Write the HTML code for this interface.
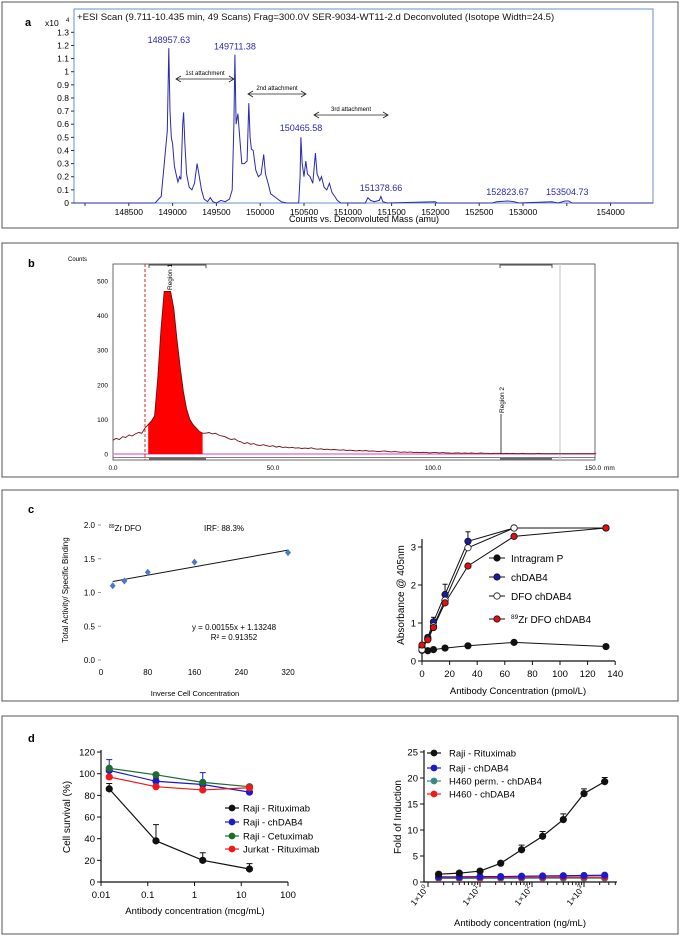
<!DOCTYPE html>
<html><head><meta charset="utf-8"><style>
html,body{margin:0;padding:0;background:#fff}
svg{display:block;font-family:"Liberation Sans",Arial,sans-serif}
</style></head><body>
<svg id="fig" width="680" height="937" viewBox="0 0 680 937" xmlns="http://www.w3.org/2000/svg">
<rect x="2" y="2" width="676" height="226" fill="none" stroke="#555"/>
<rect x="2" y="243" width="676" height="234" fill="none" stroke="#555"/>
<rect x="2" y="490" width="676" height="211" fill="none" stroke="#555"/>
<rect x="2" y="716" width="676" height="218" fill="none" stroke="#555"/>
<text x="25" y="26" font-size="11" font-weight="bold">a</text>
<text x="28" y="267" font-size="11" font-weight="bold">b</text>
<text x="28" y="513" font-size="11" font-weight="bold">c</text>
<text x="28" y="742" font-size="11" font-weight="bold">d</text>
<g id="ga"></g>
<g id="gb"></g>
<g id="gc1"></g>
<g id="gc2"></g>
<g id="gd1"></g>
<g id="gd2"></g>
</svg>
<script>
// ---------- Panel a data ----------
const specMass=[147874,148800,148870,148940,148957,148970,148985,149000,149020,149040,149060,149080,149095,149115,149125,149140,149160,149190,149220,149250,149280,149300,149330,149360,149400,149430,149460,149500,149550,149600,149650,149680,149700,149711,149725,149745,149760,149790,149820,149850,149870,149885,149900,149920,149950,149980,150010,150040,150060,150090,150120,150160,150200,150240,150300,150440,150455,150465,150480,150500,150520,150540,150570,150600,150630,150650,150680,150700,150730,150760,150790,150820,150850,150880,150920,151200,151230,151260,151300,151360,151378,151400,151450,152000,152020,152650,152700,152823,152900,152950,153330,153400,153480,153520,153560,154484];
const specInt=[0,0,0.05,0.55,1.18,0.7,0.5,0.45,0.28,0.22,0.16,0.2,0.18,0.6,0.69,0.45,0.22,0.12,0.1,0.15,0.3,0.22,0.1,0.03,0.01,0.04,0.01,0,0.02,0.01,0.03,0.1,0.6,1.13,0.6,0.68,0.55,0.3,0.3,0.32,0.76,0.5,0.41,0.4,0.25,0.2,0.22,0.37,0.22,0.15,0.07,0.05,0.03,0.01,0,0,0.2,0.5,0.3,0.2,0.32,0.22,0.2,0.15,0.38,0.22,0.17,0.2,0.12,0.1,0.15,0.08,0.05,0.02,0,0,0.04,0.02,0.01,0.02,0.05,0.01,0,0.01,0,0,0.01,0.015,0.01,0,0.01,0,0.015,0.015,0,0];
const aYTicks=[0,0.1,0.2,0.3,0.4,0.5,0.6,0.7,0.8,0.9,1,1.1,1.2,1.3];
const aXTicks=[148500,149000,149500,150000,150500,151000,151500,152000,152500,153000,153500,154000];
const aPeakLabels=["148957.63","149711.38","150465.58","151378.66","152823.67","153504.73"];
const aPeakMass=[148957.63,149711.38,150465.58,151378.66,152823.67,153504.73];
const aPeakLabelVal=[1.22,1.17,0.55,0.09,0.06,0.06];
// ---------- Panel b data (counts per mm 0..150) ----------
const tlcCounts=[40,45,42,50,48,55,52,58,62,60,75,85,95,110,220,360,470,470,470,420,330,250,180,130,100,85,75,65,60,60,62,58,60,55,52,50,45,42,44,38,35,30,33,28,30,26,25,27,24,22,24,20,22,19,20,18,19,17,18,16,17,16,18,15,14,15,13,14,12,13,12,11,12,10,11,10,9,10,9,10,8,9,8,7,8,9,7,6,7,6,5,6,5,6,4,5,4,5,4,3,4,4,3,4,3,3,2,3,3,2,3,2,3,2,2,3,2,2,1,2,2,2,1,2,1,2,1,1,2,1,1,1,1,2,1,1,1,1,1,1,1,1,1,1,1,1,1,1,1,1,1,1];
const bYTicks=[0,100,200,300,400,500];
const bXTicks=["0.0","50.0","100.0","150.0"];
const bXTickVals=[0,50,100,150];
// ---------- Panel c data ----------
const lindX=[20,40,80,160,320];
const lindY=[1.10,1.17,1.30,1.45,1.59];
const lindSlope=0.00155, lindIntercept=1.13248;
const c1YTicks=["0.0","0.5","1.0","1.5","2.0"];
const c1XTicks=[0,80,160,240,320];
const elisaX=[0,4.2,8.3,16.7,33.3,66.7,133.3];
const elisaIntragram=[0.28,0.27,0.3,0.34,0.4,0.49,0.38];
const elisaChDAB4=[0.35,0.62,1.03,1.75,3.15,3.5,3.5];
const elisaDFO=[0.3,0.58,0.92,1.6,2.98,3.5,3.5];
const elisaZr=[0.42,0.56,0.88,1.53,2.5,3.28,3.5];
const elisaErrChDAB4=[0.05,0.06,0.12,0.27,0.25,0.03,0.03];
const elisaErrIntragram=[0.03,0.03,0.04,0.06,0.06,0.07,0.08];
const c2YTicks=[0,1,2,3];
const c2XTicks=[0,20,40,60,80,100,120,140];
// ---------- Panel d data ----------
const cdcX=[0.015,0.15,1.5,15];
const cdcRaji=[86,38,20,12];
const cdcRajiErr=[5,15,7,5];
const cdcChDAB4=[103,93,90,83];
const cdcChDAB4Err=[10,3,11,3];
const cdcCetux=[105,99,92,88];
const cdcJurkat=[97,88,85,87];
const d1YTicks=[0,20,40,60,80,100,120];
const d1XTicks=["0.01","0.1","1","10","100"];
const d1XTickVals=[0.01,0.1,1,10,100];
const adccX=[1.6,4,10,25,63,160,400,1000,2500];
const adccRaji=[1.5,1.7,2.1,3.6,6.2,8.8,12.0,17.0,19.3];
const adccRajiErr=[0.3,0.3,0.3,0.4,0.9,0.9,1.1,0.9,0.8];
const adccChDAB4=[1.0,1.0,1.05,1.05,1.1,1.15,1.2,1.25,1.3];
const adccH460p=[0.7,0.7,0.7,0.72,0.72,0.75,0.75,0.75,0.75];
const adccH460=[0.85,0.85,0.85,0.88,0.9,0.9,0.92,0.95,0.95];
const d2YTicks=[0,5,10,15,20,25];
const d2XTickExp=[0,1,2,3];

const NS="http://www.w3.org/2000/svg";
function mk(tag,attrs,parent,txt){const e=document.createElementNS(NS,tag);for(const k in attrs)e.setAttribute(k,attrs[k]);if(txt!==undefined)e.textContent=txt;parent.appendChild(e);return e;}
let e;

// ===== Panel a =====
(function(){
const g=document.getElementById('ga');
const X=m=>85+(m-148000)*0.0876, Y=v=>203-v*131.3;
e=mk('rect',{x:74,y:9,width:579,height:194,fill:'none',stroke:'#6a8fc8','stroke-width':1},g);

e=mk('text',{x:77,y:20,'font-size':9.6,fill:'#111'},g,'+ESI Scan (9.711-10.435 min, 49 Scans) Frag=300.0V SER-9034-WT11-2.d  Deconvoluted (Isotope Width=24.5)');

e=mk('text',{x:45,y:26,'font-size':8.5},g,'x10');

e=mk('text',{x:66,y:22,'font-size':6},g,'4');

aYTicks.forEach(v=>{
 e=mk('line',{x1:71,x2:74,y1:Y(v),y2:Y(v),stroke:'#333'},g);
 
 e=mk('text',{x:69,y:Y(v)+3,'font-size':8.5,'text-anchor':'end'},g,String(v));
 
});
e=mk('line',{x1:X(148000),x2:X(148000),y1:203,y2:206,stroke:'#333'},g);

aXTicks.forEach(v=>{
 e=mk('line',{x1:X(v),x2:X(v),y1:203,y2:206,stroke:'#333'},g);
 
 if(v!==153500){
 e=mk('text',{x:X(v),y:215,'font-size':8.5,'text-anchor':'middle'},g,String(v));
 }
});
e=mk('text',{x:364,y:222,'font-size':9,'text-anchor':'middle'},g,'Counts vs. Deconvoluted Mass (amu)');

let d=specMass.map((m,i)=>(i?'L':'M')+X(m).toFixed(1)+','+Y(specInt[i]).toFixed(1)).join('');
e=mk('path',{d:d,fill:'none',stroke:'#2a2ab0','stroke-width':1},g);

aPeakLabels.forEach((t,i)=>{
 e=mk('text',{x:X(aPeakMass[i]),y:Y(aPeakLabelVal[i]),'font-size':9,fill:'#2a2ab0','text-anchor':'middle'},g,t);
 
});
const arrows=[[176,234,79,'1st attachment'],[248,306,94,'2nd attachment'],[314,388,115,'3rd attachment']];
arrows.forEach(a=>{
 e=mk('path',{d:`M${a[0]},${a[2]}H${a[1]}M${a[0]+5},${a[2]-3}L${a[0]},${a[2]}L${a[0]+5},${a[2]+3}M${a[1]-5},${a[2]-3}L${a[1]},${a[2]}L${a[1]-5},${a[2]+3}`,fill:'none',stroke:'#222','stroke-width':0.8},g);
 
 e=mk('text',{x:(a[0]+a[1])/2,y:a[2]-4,'font-size':6,'text-anchor':'middle'},g,a[3]);
 
});
})();

// ===== Panel b =====
(function(){
const g=document.getElementById('gb');
const X=mm=>113+mm*3.2, Y=c=>454-c*0.346;
e=mk('rect',{x:113,y:264,width:482,height:196,fill:'none',stroke:'#444','stroke-width':0.8},g);

e=mk('text',{x:68,y:261,'font-size':6},g,'Counts');

bYTicks.forEach(v=>{
 e=mk('text',{x:108,y:Y(v)+2.5,'font-size':6.5,'text-anchor':'end'},g,String(v));
 
});
bXTickVals.forEach((v,i)=>{
 e=mk('text',{x:X(v),y:470,'font-size':6.5,'text-anchor':'middle'},g,bXTicks[i]);
 
});
e=mk('text',{x:604,y:470,'font-size':6.5},g,'mm');

e=mk('line',{x1:113,x2:595,y1:454,y2:454,stroke:'#f07cd8','stroke-width':1.5},g);

e=mk('line',{x1:113,x2:595,y1:457.5,y2:457.5,stroke:'#555','stroke-width':0.8},g);

e=mk('line',{x1:560,x2:560,y1:264,y2:460,stroke:'#ccc','stroke-width':1.2},g);

// region 1 fill
let pts=[];for(let i=11;i<=28;i++)pts.push(X(i)+','+Y(tlcCounts[i]));
e=mk('polygon',{points:X(11)+','+Y(0)+' '+pts.join(' ')+' '+X(28)+','+Y(0),fill:'#ff0000'},g);

let d='';tlcCounts.forEach((c,i)=>{d+=(i?'L':'M')+X(i).toFixed(1)+','+Y(c).toFixed(1);});
e=mk('path',{d:d,fill:'none',stroke:'#6b0f0f','stroke-width':0.9},g);

e=mk('line',{x1:145,x2:145,y1:264,y2:460,stroke:'#e02020','stroke-dasharray':'3,2','stroke-width':1},g);

[[149,206],[500,552]].forEach(r=>{
 e=mk('path',{d:`M${r[0]},268V265H${r[1]}V268`,fill:'none',stroke:'#444','stroke-width':0.9},g);
 
 e=mk('path',{d:`M${r[0]},459H${r[1]}`,stroke:'#666','stroke-width':2},g);
 
});
e=mk('text',{transform:'translate(172,290) rotate(-90)','font-size':6.5},g,'Region 1');

e=mk('line',{x1:501,x2:501,y1:414,y2:454,stroke:'#111','stroke-width':0.8},g);

e=mk('text',{transform:'translate(504,413) rotate(-90)','font-size':6.5},g,'Region 2');

})();

// ===== Panel c left =====
(function(){
const g=document.getElementById('gc1');
const X=v=>101+v*187/320, Y=v=>660-v*67.5;
c1YTicks.forEach(t=>{const v=parseFloat(t);
 e=mk('line',{x1:98,x2:101,y1:Y(v),y2:Y(v),stroke:'#999'},g);
 
 e=mk('text',{x:95,y:Y(v)+3,'font-size':8,'text-anchor':'end'},g,t);
 
});
c1XTicks.forEach(v=>{
 e=mk('text',{x:X(v),y:675,'font-size':8,'text-anchor':'middle'},g,String(v));
 
});
e=mk('text',{x:195,y:696,'font-size':7.5,'text-anchor':'middle'},g,'Inverse  Cell Concentration');

e=mk('text',{transform:'translate(68,590) rotate(-90)','font-size':8,'text-anchor':'middle'},g,'Total Activity/ Specific Binding');

e=mk('text',{x:109,y:531,'font-size':8},g);

e.innerHTML='<tspan font-size="5" dy="-3">89</tspan><tspan dy="3">Zr DFO</tspan>';
e=mk('text',{x:204,y:531,'font-size':8},g,'IRF:  88.3%');

e=mk('line',{x1:X(lindX[0]),x2:X(lindX[4]),y1:Y(lindSlope*lindX[0]+lindIntercept),y2:Y(lindSlope*lindX[4]+lindIntercept),stroke:'#111','stroke-width':1},g);

lindX.forEach((x,i)=>{const cx=X(x),cy=Y(lindY[i]);
 e=mk('polygon',{points:`${cx},${cy-3.5} ${cx+3},${cy} ${cx},${cy+3.5} ${cx-3},${cy}`,fill:'#4a7bc4'},g);
 
});
e=mk('text',{x:234,y:630,'font-size':8,'text-anchor':'middle'},g,'y = 0.00155x + 1.13248');

e=mk('text',{x:234,y:640,'font-size':8,'text-anchor':'middle'},g,'R² = 0.91352');

})();

// ===== Panel c right =====
(function(){
const g=document.getElementById('gc2');
const X=v=>422+v*1.38, Y=v=>661-v*38;
e=mk('path',{d:'M422,539V661H615',fill:'none',stroke:'#111','stroke-width':1.2},g);

c2YTicks.forEach(v=>{
 e=mk('line',{x1:418,x2:422,y1:Y(v),y2:Y(v),stroke:'#111'},g);
 
 e=mk('text',{x:416,y:Y(v)+3.5,'font-size':9.5,'text-anchor':'end'},g,String(v));
 
});
c2XTicks.forEach(v=>{
 e=mk('line',{x1:X(v),x2:X(v),y1:661,y2:665,stroke:'#111'},g);
 
 e=mk('text',{x:X(v),y:677,'font-size':9.5,'text-anchor':'middle'},g,String(v));
 
});
e=mk('text',{x:518,y:694,'font-size':9.5,'text-anchor':'middle'},g,'Antibody Concentration (pmol/L)');

e=mk('text',{transform:'translate(404,595) rotate(-90)','font-size':10,'text-anchor':'middle'},g,'Absorbance @ 405nm');

const series=[[elisaIntragram,'#111','#111','intragram'],[elisaChDAB4,'#1a1aa8','#111','chdab4'],[elisaDFO,'#fff','#111','dfo-chdab4'],[elisaZr,'#e01010','#111','zr-dfo-chdab4']];
elisaX.forEach((x,i)=>{
 e=mk('line',{x1:X(x),x2:X(x),y1:Y(elisaChDAB4[i]),y2:Y(elisaChDAB4[i]+elisaErrChDAB4[i]),stroke:'#111'},g);
 
 e=mk('line',{x1:X(x)-2.5,x2:X(x)+2.5,y1:Y(elisaChDAB4[i]+elisaErrChDAB4[i]),y2:Y(elisaChDAB4[i]+elisaErrChDAB4[i]),stroke:'#111'},g);
 
 e=mk('line',{x1:X(x),x2:X(x),y1:Y(elisaIntragram[i]),y2:Y(elisaIntragram[i]+elisaErrIntragram[i]),stroke:'#111'},g);
 
});
series.forEach(s=>{
 e=mk('polyline',{points:elisaX.map((x,i)=>X(x)+','+Y(s[0][i])).join(' '),fill:'none',stroke:'#111','stroke-width':1},g);
 
});
series.forEach(s=>{
 elisaX.forEach((x,i)=>{
 e=mk('circle',{cx:X(x),cy:Y(s[0][i]),r:3.2,fill:s[1],stroke:s[2],'stroke-width':0.8},g);
 
 });
});
const legT=['Intragram P','chDAB4','DFO chDAB4',''];const legY=[558,577,596,619];
series.forEach((s,i)=>{
 e=mk('line',{x1:489,x2:505,y1:legY[i],y2:legY[i],stroke:'#111'},g);
 
 e=mk('circle',{cx:497,cy:legY[i],r:3.2,fill:s[1],stroke:'#111','stroke-width':0.8},g);
 
 e=mk('text',{x:511,y:legY[i]+4,'font-size':10},g,legT[i]);
 
 if(i===3){e.innerHTML='<tspan font-size="6.5" dy="-4">89</tspan><tspan dy="4">Zr DFO chDAB4</tspan>';}
});
})();

// ===== Panel d left =====
(function(){
const g=document.getElementById('gd1');
const X=v=>101+(Math.log10(v)+2)*46.75, Y=v=>882-v*1.083;
e=mk('path',{d:'M101,750V882H288',fill:'none',stroke:'#111','stroke-width':1.2},g);

d1YTicks.forEach(v=>{
 e=mk('line',{x1:97,x2:101,y1:Y(v),y2:Y(v),stroke:'#111'},g);
 
 e=mk('text',{x:95,y:Y(v)+3.5,'font-size':9.5,'text-anchor':'end'},g,String(v));
 
});
d1XTickVals.forEach((v,i)=>{
 e=mk('line',{x1:X(v),x2:X(v),y1:882,y2:886,stroke:'#111'},g);
 
 e=mk('text',{x:X(v),y:898,'font-size':9.5,'text-anchor':'middle'},g,d1XTicks[i]);
 
});
e=mk('text',{x:195,y:914,'font-size':9.5,'text-anchor':'middle'},g,'Antibody concentration (mcg/mL)');

e=mk('text',{transform:'translate(70,817) rotate(-90)','font-size':10,'text-anchor':'middle'},g,'Cell survival (%)');

const series=[[cdcRaji,'#111','raji-rituximab',cdcRajiErr],[cdcChDAB4,'#1a1ad0','raji-chdab4',cdcChDAB4Err],[cdcCetux,'#1e6b2e','raji-cetuximab',null],[cdcJurkat,'#f01818','jurkat-rituximab',null]];
series.forEach(s=>{
 if(s[3]) cdcX.forEach((x,i)=>{const top=Y(s[0][i]+s[3][i]);
 e=mk('path',{d:`M${X(x)},${Y(s[0][i])}V${top}M${X(x)-3},${top}H${X(x)+3}`,stroke:s[1],fill:'none'},g);
 });
});
series.forEach(s=>{
 e=mk('polyline',{points:cdcX.map((x,i)=>X(x)+','+Y(s[0][i])).join(' '),fill:'none',stroke:s[1],'stroke-width':1.2},g);
 
 cdcX.forEach((x,i)=>{
 e=mk('circle',{cx:X(x),cy:Y(s[0][i]),r:3.6,fill:s[1]},g);
 });
});
const legT=['Raji - Rituximab','Raji - chDAB4','Raji - Cetuximab','Jurkat - Rituximab'];const legY=[808,822,836,849];
series.forEach((s,i)=>{
 e=mk('line',{x1:225,x2:239,y1:legY[i],y2:legY[i],stroke:s[1],'stroke-width':1.2},g);
 
 e=mk('circle',{cx:232,cy:legY[i],r:3.4,fill:s[1]},g);
 
 e=mk('text',{x:243,y:legY[i]+3.5,'font-size':9.5},g,legT[i]);
 
});
})();

// ===== Panel d right =====
(function(){
const g=document.getElementById('gd2');
const X=v=>428+Math.log10(v)*52, Y=v=>882-v*5.2;
e=mk('path',{d:'M424,750V882H617',fill:'none',stroke:'#111','stroke-width':1.2},g);

d2YTicks.forEach(v=>{
 e=mk('line',{x1:420,x2:424,y1:Y(v),y2:Y(v),stroke:'#111'},g);
 
 e=mk('text',{x:418,y:Y(v)+3.5,'font-size':9.5,'text-anchor':'end'},g,String(v));
 
});
d2XTickExp.forEach(p=>{
 for(let k=1;k<10;k++){const v=k*Math.pow(10,p);if(X(v)>617||X(v)<424)continue;
 e=mk('line',{x1:X(v),x2:X(v),y1:882,y2:k===1?887:885,stroke:'#111'},g);
 }
 e=mk('text',{transform:`translate(${X(Math.pow(10,p))+1},${889}) rotate(-50)`,'font-size':8.5,'text-anchor':'end'},g);
 
 e.innerHTML='1×10<tspan font-size="6" dy="-4">'+p+'</tspan>';
});
e=mk('text',{x:520,y:926,'font-size':9.5,'text-anchor':'middle'},g,'Antibody concentration (ng/mL)');

e=mk('text',{transform:'translate(401,817) rotate(-90)','font-size':10,'text-anchor':'middle'},g,'Fold of Induction');

adccX.forEach((x,i)=>{const top=Y(adccRaji[i]+adccRajiErr[i]);
 e=mk('path',{d:`M${X(x)},${Y(adccRaji[i])}V${top}M${X(x)-3},${top}H${X(x)+3}`,stroke:'#111',fill:'none'},g);
 });
const series=[[adccH460p,'#3a8a80','h460-perm-chdab4'],[adccH460,'#f01818','h460-chdab4'],[adccChDAB4,'#1a1ad0','raji-chdab4'],[adccRaji,'#111','raji-rituximab']];
series.forEach(s=>{
 e=mk('polyline',{points:adccX.map((x,i)=>X(x)+','+Y(s[0][i])).join(' '),fill:'none',stroke:s[1],'stroke-width':1.2},g);
 
 adccX.forEach((x,i)=>{
 e=mk('circle',{cx:X(x),cy:Y(s[0][i]),r:3.6,fill:s[1]},g);
 });
});
const leg=[['Raji - Rituximab','#111'],['Raji - chDAB4','#1a1ad0'],['H460 perm. - chDAB4','#3a8a80'],['H460 - chDAB4','#f01818']];const legY=[753,768,781,794];
leg.forEach((s,i)=>{
 e=mk('line',{x1:427,x2:441,y1:legY[i],y2:legY[i],stroke:s[1],'stroke-width':1.2},g);
 
 e=mk('circle',{cx:434,cy:legY[i],r:3.4,fill:s[1]},g);
 
 e=mk('text',{x:449,y:legY[i]+3.5,'font-size':9.5},g,s[0]);
 
});
})();
</script>
</body></html>
